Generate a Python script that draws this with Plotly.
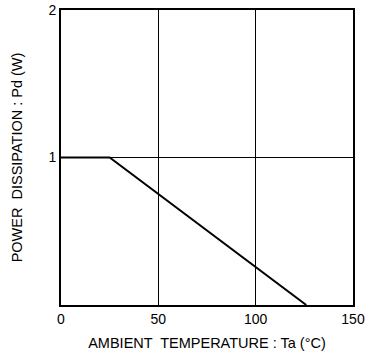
import plotly.graph_objects as go

temp_c = [0, 25, 126]
power_w = [1, 1, 0]
x_ticks = [0, 50, 100, 150]
y_ticks = [1, 2]
y_tick_labels = ["1", "2"]

fig = go.Figure()
fig.add_trace(go.Scatter(x=temp_c, y=power_w, mode="lines",
                         line=dict(color="black", width=2), showlegend=False,
                         cliponaxis=False))

tick_font = dict(family="Liberation Sans, Arial, sans-serif", size=14, color="black")
title_font = dict(family="Liberation Sans, Arial, sans-serif", size=14.5, color="black")
fig.update_layout(
    width=366, height=358,
    margin=dict(l=61, r=13, t=10, b=53),
    paper_bgcolor="white", plot_bgcolor="white",
    font=tick_font,
    xaxis=dict(range=[0, 150], tickvals=x_ticks, ticks="", showgrid=True,
               gridcolor="black", gridwidth=1, zeroline=False, automargin=False,
               showline=True, linecolor="black", linewidth=2, mirror=True,
               title=dict(text="AMBIENT  TEMPERATURE : Ta (°C)", standoff=12, font=title_font),
               tickfont=tick_font),
    yaxis=dict(range=[0, 2], tickvals=y_ticks, ticktext=y_tick_labels, ticks="",
               showgrid=True, gridcolor="black", gridwidth=1, zeroline=False, automargin=False,
               showline=True, linecolor="black", linewidth=2, mirror=True,
               title=dict(text="POWER  DISSIPATION : Pd (W)", standoff=22, font=title_font),
               tickfont=tick_font),
)
fig.write_html("out.html", config={"displayModeBar": False},
               post_script="document.body.style.margin='0';document.body.style.overflow='hidden';")
